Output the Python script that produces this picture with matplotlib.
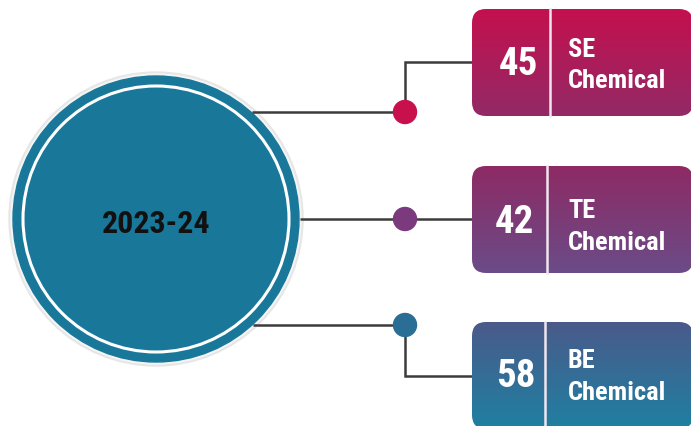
import matplotlib
matplotlib.use("Agg")
import matplotlib.pyplot as plt
import numpy as np
from matplotlib.patches import Circle, FancyBboxPatch
from matplotlib.colors import LinearSegmentedColormap

# ---- data ----
center_label = "2023-24"
values = [45, 42, 58]
categories = ["SE\nChemical", "TE\nChemical", "BE\nChemical"]
top_colors = ["#c4104e", "#8e2a64", "#4a5a8a"]
bottom_colors = ["#922a66", "#6a4c88", "#1f80a2"]
dot_colors = ["#c8104c", "#7b3a7e", "#2a6e96"]

FONT = ["Liberation Sans Narrow", "Roboto Condensed", "Liberation Sans", "DejaVu Sans"]

W, H = 691, 427
fig = plt.figure(figsize=(W / 100, H / 100), dpi=100)
ax = fig.add_axes([0, 0, 1, 1])
ax.set_xlim(0, W)
ax.set_ylim(H, 0)
ax.axis("off")

# ---- central circle ----
cx, cy, R = 156, 220, 143
ax.add_patch(Circle((cx, cy), R + 4, color="#e6e6e6", zorder=1))
ax.add_patch(Circle((cx, cy), R + 2, color="#f5f5f5", zorder=1.5))
ax.add_patch(Circle((cx, cy), R, color="#19789a", zorder=2))
ax.add_patch(Circle((cx, cy), R - 10, fill=False, ec="white", lw=2.2, zorder=3))
ax.text(cx, 233, center_label, ha="center", va="baseline", fontsize=23,
        fontweight="bold", color="#111111", family=FONT, zorder=4)

# ---- connectors & boxes ----
line_c = "#3c3c3c"
dot_x = 405
box_left, box_right = 472, 693
box_tops = [10, 167, 323]
box_h = 107
conn_y = [113, 220, 326]
conn_start = [252, 300, 253]
elbow_y = [63, 220, 377]
num_base = [75, 233, 387]
lab1_base = [57, 218, 368]
lab2_base = [88, 250, 400]
num_x = [518, 514, 516]
div_x = [550, 547, 545]
lab_x = 568

for i, v in enumerate(values):
    y = conn_y[i]
    ax.plot([conn_start[i], dot_x], [y, y], color=line_c, lw=1.8, zorder=5,
            solid_capstyle="butt")
    ax.plot([dot_x, dot_x, box_left], [y, elbow_y[i], elbow_y[i]], color=line_c,
            lw=1.8, zorder=5, solid_joinstyle="miter")
    ax.add_patch(Circle((dot_x, y), 11.5, color=dot_colors[i], zorder=6))

    top = box_tops[i]
    patch = FancyBboxPatch((box_left, top), box_right - box_left, box_h,
                           boxstyle="round,pad=0,rounding_size=14",
                           fc="none", ec="none", zorder=7)
    ax.add_patch(patch)
    cmap = LinearSegmentedColormap.from_list("g%d" % i, [top_colors[i], bottom_colors[i]])
    grad = np.linspace(0, 1, 256).reshape(-1, 1)
    im = ax.imshow(grad, cmap=cmap, aspect="auto", zorder=7,
                   extent=[box_left, box_right, top + box_h, top])
    im.set_clip_path(patch)
    ax.plot([div_x[i], div_x[i]], [top, top + box_h], color="#f0e6ee", lw=1.8,
            zorder=8)
    ax.text(num_x[i], num_base[i], str(v), ha="center", va="baseline", fontsize=28,
            fontweight="bold", color="white", family=FONT, zorder=9)
    l1, l2 = categories[i].split("\n")
    ax.text(lab_x, lab1_base[i], l1, ha="left", va="baseline", fontsize=19,
            fontweight="bold", color="white", family=FONT, zorder=9)
    ax.text(lab_x, lab2_base[i], l2, ha="left", va="baseline", fontsize=19,
            fontweight="bold", color="white", family=FONT, zorder=9)

ax.set_xlim(0, W)
ax.set_ylim(H, 0)
fig.savefig("out.png", dpi=100)
